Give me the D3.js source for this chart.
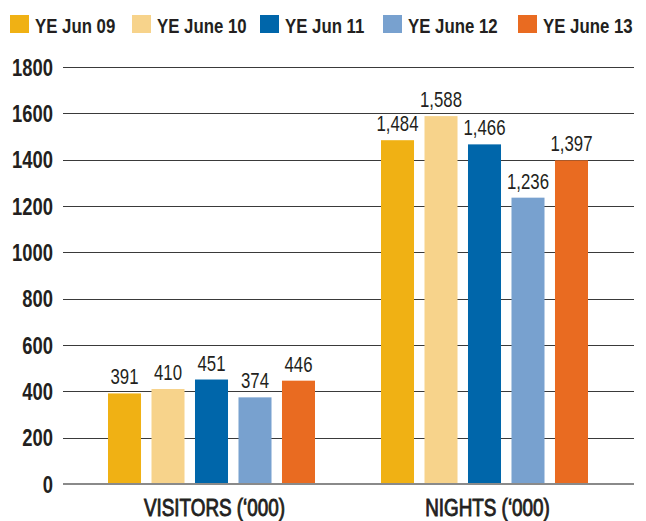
<!DOCTYPE html>
<html>
<head>
<meta charset="utf-8">
<script src="https://cdn.jsdelivr.net/npm/d3@7"></script>
<style>
  html, body { margin: 0; padding: 0; background: #fff; }
  svg text { font-family: "Liberation Sans", Arial, sans-serif; fill: #231f20; }
</style>
</head>
<body>
<svg id="chart" width="646" height="521"></svg>
<script>
// Visitor and night counts ('000) by year ending June
const categories = ["VISITORS (\u2018000)", "NIGHTS (\u2018000)"];
const seriesNames = ["YE Jun 09", "YE June 10", "YE Jun 11", "YE June 12", "YE June 13"];
const seriesColors = ["#f0b114", "#f7d38b", "#0066aa", "#78a1cf", "#e96b21"];
const visitors = [391, 410, 451, 374, 446];
const nights = [1484, 1588, 1466, 1236, 1397];
const yTicks = [0, 200, 400, 600, 800, 1000, 1200, 1400, 1600, 1800];

const values = [visitors, nights];
const svg = d3.select("#chart");

// Condensed look: squeeze each text horizontally around its anchor point
const NARROW = 0.8;
function condense(sel, k = NARROW) {
  sel.each(function () {
    const t = d3.select(this);
    const x = +t.attr("x") || 0, yv = +t.attr("y") || 0;
    t.attr("x", 0).attr("y", 0).attr("transform", `translate(${x},${yv}) scale(${k},1)`);
  });
}

const plotLeft = 63, plotRight = 634;
const y = d3.scaleLinear().domain([0, 1800]).range([484, 67]);

const x0 = d3.scaleBand().domain(categories).range([75, 621]).padding(0);
const x1 = d3.scaleBand().domain(seriesNames).range([33, 240]).paddingInner(0.241).paddingOuter(0);
const color = d3.scaleOrdinal().domain(seriesNames).range(seriesColors);

// Tick labels
const yAxis = d3.axisLeft(y).tickValues(yTicks).tickSize(0).tickPadding(10).tickFormat(d3.format("d"));
const gy = svg.append("g").attr("transform", `translate(${plotLeft},0)`).call(yAxis);
gy.select(".domain").remove();
gy.selectAll(".tick text")
  .attr("x", -10)
  .attr("dy", null)
  .attr("y", 8)
  .style("font-size", "23px")
  .style("font-weight", "bold")
  .attr("fill", "#231f20")
  .call(condense);

// Horizontal grid lines
svg.append("g").selectAll("line")
  .data(yTicks.filter(d => d !== 0))
  .join("line")
  .attr("x1", plotLeft).attr("x2", plotRight)
  .attr("y1", d => Math.round(y(d)) + 0.5).attr("y2", d => Math.round(y(d)) + 0.5)
  .attr("stroke", "#3a3a3a").attr("stroke-width", 1);

// Bars
const groups = svg.append("g").selectAll("g")
  .data(categories)
  .join("g")
  .attr("transform", d => `translate(${x0(d)},0)`);

groups.selectAll("rect")
  .data((c, i) => seriesNames.map((s, j) => ({ s, v: values[i][j] })))
  .join("rect")
  .attr("x", d => x1(d.s))
  .attr("width", x1.bandwidth())
  .attr("y", d => y(d.v))
  .attr("height", d => y(0) - y(d.v))
  .attr("fill", d => color(d.s));

// Value labels
groups.selectAll("text.val")
  .data((c, i) => seriesNames.map((s, j) => ({ s, v: values[i][j] })))
  .join("text")
  .attr("class", "val")
  .attr("x", d => x1(d.s) + x1.bandwidth() / 2)
  .attr("y", d => y(d.v) - 9)
  .attr("text-anchor", "middle")
  .style("font-size", "21.5px")
  .attr("fill", "#333")
  .text(d => d3.format(",")(d.v))
  .call(condense, 0.78);

// Baseline
svg.append("line")
  .attr("x1", plotLeft).attr("x2", plotRight)
  .attr("y1", y(0)).attr("y2", y(0))
  .attr("stroke", "#8a8a8a").attr("stroke-width", 2);

// Category labels
svg.append("g").selectAll("text")
  .data(categories)
  .join("text")
  .attr("x", d => x0(d) + x0.bandwidth() / 2 + 3)
  .attr("y", 516)
  .attr("text-anchor", "middle")
  .style("font-size", "23px")
  .attr("stroke", "#231f20")
  .attr("stroke-width", 0.9)
  .text(d => d)
  .call(condense, 0.82);

// Legend
const legendX = [10, 132, 260, 383, 518];
const legend = svg.append("g").selectAll("g")
  .data(seriesNames)
  .join("g")
  .attr("transform", (d, i) => `translate(${legendX[i]},15)`);
legend.append("rect").attr("width", 19).attr("height", 18).attr("fill", d => color(d));
legend.append("text")
  .attr("x", 25).attr("y", 18)
  .style("font-size", "21px")
  .style("font-weight", "bold")
  .text(d => d)
  .call(condense, 0.8);
</script>
</body>
</html>
